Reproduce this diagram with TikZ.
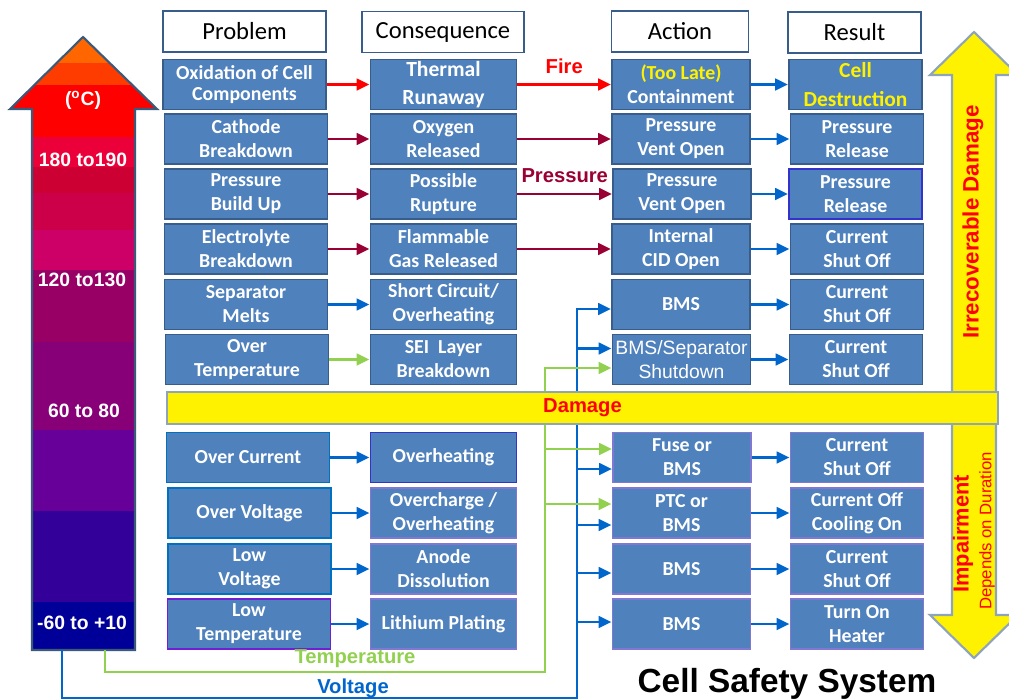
\documentclass[tikz,border=0pt]{standalone}
\usepackage{fontspec}
\setmainfont{Carlito}
\newfontfamily\arialfont{Liberation Sans}
\definecolor{boxfill}{RGB}{79,129,189}
\definecolor{boxedge}{RGB}{56,93,138}
\definecolor{edgedeep}{RGB}{51,51,204}
\definecolor{edgelight}{RGB}{128,120,210}
\definecolor{edgebright}{RGB}{0,112,192}
\definecolor{edgeviolet}{RGB}{112,32,210}
\definecolor{firered}{RGB}{255,0,0}
\definecolor{winered}{RGB}{153,0,51}
\definecolor{wireblue}{RGB}{0,102,204}
\definecolor{wiregreen}{RGB}{146,208,80}
\definecolor{framegray}{RGB}{142,164,186}
\definecolor{slate}{RGB}{59,90,122}
\definecolor{tempa}{RGB}{255,102,0}
\definecolor{tempb}{RGB}{255,60,0}
\definecolor{tempc}{RGB}{255,0,0}
\definecolor{tempd}{RGB}{236,0,58}
\definecolor{tempe}{RGB}{204,0,51}
\definecolor{tempf}{RGB}{204,0,72}
\definecolor{tempg}{RGB}{204,0,102}
\definecolor{temph}{RGB}{153,0,102}
\definecolor{tempi}{RGB}{136,0,119}
\definecolor{tempj}{RGB}{102,0,153}
\definecolor{tempk}{RGB}{51,0,153}
\definecolor{templ}{RGB}{0,0,153}
\usepackage{tikz}
\usetikzlibrary{
	arrows.meta,
	positioning,
	calc
}
\tikzset{
  % arrow
	cstra/.style      ={-{Triangle[length=0.26cm,width=0.23cm]}, line width=1.7pt}, % right arrow
  % node
	cstnode/.style    ={fill=boxfill,draw=boxedge,text=white,line width=1.1pt,inner sep=0pt,align=center,minimum height=1cm,font=\bfseries\fontsize{11.3}{13.6}\selectfont},
	csthead/.style    ={fill=white,draw=boxedge,text=black,line width=1.1pt,inner sep=0pt,minimum height=0.82cm,font=\fontsize{14}{16}\selectfont},
	cstcolp/.style    ={minimum width=3.26cm},
	cstcolc/.style    ={minimum width=2.92cm},
	cstcola/.style    ={minimum width=2.76cm},
	cstcolr/.style    ={minimum width=2.66cm},
  % text
	cstlabel/.style   ={font=\arialfont\bfseries\fontsize{11.5}{13}\selectfont},
	csttemp/.style    ={text=white,font=\arialfont\bfseries\fontsize{11}{13}\selectfont},
  % big arrow
	cstbig/.style     ={fill=yellow,draw=framegray,line width=1.2pt}
}

\begin{document}
\begin{tikzpicture}[x=0.02cm,y=-0.02cm]
	\useasboundingbox (0,0) rectangle (1009,700);
	% temperature scale
	\begin{scope}
		\clip (32,650) -- (32,109) -- (10,109) -- (83,37) -- (157,109) -- (135,109) -- (135,650) -- cycle;
		\foreach \ya/\yb/\col in {30/63/tempa,63/85/tempb,85/137/tempc,137/167/tempd,167/193/tempe,193/230/tempf,230/270/tempg,270/342/temph,342/430/tempi,430/511/tempj,511/602/tempk,602/652/templ}
			\fill[\col] (0,\ya) rectangle (170,\yb);
	\end{scope}
	\draw[slate,line width=1.2pt] (32,650) -- (32,109) -- (10,109) -- (83,37) -- (157,109) -- (135,109) -- (135,650) -- cycle;
	\node[csttemp] (t1) at (83,100) {(\textsuperscript{o}C)};
	\node[csttemp] (t2) at (83,160) {180 to190};
	\node[csttemp] (t3) at (82,280) {120 to130};
	\node[csttemp] (t4) at (84,411) {60 to 80};
	\node[csttemp] (t5) at (82,623) {-60 to +10};
	% headers
	\node[csthead,cstcolp] (hp) at (244.5,31.5) {Problem};
	\node[csthead,minimum width=3.24cm] (hc) at (443,32) {Consequence};
	\node[csthead,minimum width=2.74cm] (ha) at (680,31.5) {Action};
	\node[csthead,cstcolr] (hr) at (854.5,32.5) {Result};
	% problem
	\node[cstnode,cstcolp] (p1) at (244.5,84.5) {Oxidation of Cell\\[-2pt]Components};
	\node[cstnode,cstcolp] (p2) at (246,139) {Cathode\\Breakdown};
	\node[cstnode,cstcolp] (p3) at (246,194) {Pressure\\Build Up};
	\node[cstnode,cstcolp] (p4) at (246,249) {Electrolyte\\Breakdown};
	\node[cstnode,cstcolp] (p5) at (246,304.5) {Separator\\Melts};
	\node[cstnode,cstcolp] (p6) at (247,359.5) {Over\\Temperature};
	\node[cstnode,cstcolp,draw=edgebright] (p7) at (248,457.5) {Over Current};
	\node[cstnode,cstcolp,draw=edgebright] (p8) at (249.5,513) {Over Voltage};
	\node[cstnode,cstcolp,draw=edgebright] (p9) at (249.5,569) {Low\\Voltage};
	\node[cstnode,cstcolp,draw=edgeviolet] (p10) at (249,624) {Low\\Temperature};
	% consequence
	\node[cstnode,cstcolc,font=\bfseries\fontsize{12.3}{14}\selectfont] (c1) at (443.5,84.5) {Thermal\\[2pt]Runaway};
	\node[cstnode,cstcolc] (c2) at (443.5,139) {Oxygen\\Released};
	\node[cstnode,cstcolc] (c3) at (443.5,194) {Possible\\Rupture};
	\node[cstnode,cstcolc] (c4) at (443.5,249) {Flammable\\Gas Released};
	\node[cstnode,cstcolc] (c5) at (443.5,304.5) {Short Circuit/\\Overheating};
	\node[cstnode,cstcolc] (c6) at (443.5,359.5) {SEI\ \ Layer\\Breakdown};
	\node[cstnode,cstcolc,draw=edgedeep] (c7) at (443.5,457.5) {Overheating};
	\node[cstnode,cstcolc,draw=edgelight] (c8) at (443.5,513) {Overcharge /\\Overheating};
	\node[cstnode,cstcolc,draw=edgelight] (c9) at (443.5,569) {Anode\\Dissolution};
	\node[cstnode,cstcolc,draw=edgelight] (c10) at (443.5,624) {Lithium Plating};
	% action
	\node[cstnode,cstcola] (a1) at (681,84.5) {\textcolor{yellow}{(Too Late)}\\Containment};
	\node[cstnode,cstcola] (a2) at (681,139) {Pressure\\Vent Open};
	\node[cstnode,cstcola] (a3) at (682,194) {Pressure\\Vent Open};
	\node[cstnode,cstcola] (a4) at (681,249) {Internal\\CID Open};
	\node[cstnode,cstcola] (a5) at (681,304.5) {BMS};
	\node[cstnode,cstcola,font=\arialfont\fontsize{11}{13.6}\selectfont] (a6) at (681.5,359.5) {BMS/Separator\\Shutdown};
	\node[cstnode,cstcola,draw=edgelight] (a7) at (682,457.5) {Fuse or\\BMS};
	\node[cstnode,cstcola,draw=edgelight] (a8) at (681.5,513) {PTC or\\BMS};
	\node[cstnode,cstcola,draw=edgelight] (a9) at (681.5,569) {BMS};
	\node[cstnode,cstcola,draw=edgelight] (a10) at (681.5,624) {BMS};
	% result
	\node[cstnode,cstcolr,text=yellow,font=\bfseries\fontsize{12.2}{14}\selectfont] (r1) at (855.5,84.5) {Cell\\[2pt]Destruction};
	\node[cstnode,cstcolr] (r2) at (857,139) {Pressure\\Release};
	\node[cstnode,cstcolr,draw=edgedeep] (r3) at (855.5,194) {Pressure\\Release};
	\node[cstnode,cstcolr] (r4) at (857,249) {Current\\Shut Off};
	\node[cstnode,cstcolr] (r5) at (857,304.5) {Current\\Shut Off};
	\node[cstnode,cstcolr] (r6) at (856,359.5) {Current\\Shut Off};
	\node[cstnode,cstcolr,draw=edgelight] (r7) at (857,457.5) {Current\\Shut Off};
	\node[cstnode,cstcolr,draw=edgelight] (r8) at (857,513) {Current Off\\Cooling On};
	\node[cstnode,cstcolr,draw=edgelight] (r9) at (857,569) {Current\\Shut Off};
	\node[cstnode,cstcolr,draw=edgelight] (r10) at (857,624) {Turn On\\Heater};
	% problem -> consequence
	\draw[cstra,firered] (p1.east) -- (p1.east -| c1.west);
	\foreach \n in {2,3,4}
		\draw[cstra,winered] (p\n.east) -- (p\n.east -| c\n.west);
	\draw[cstra,wireblue] (p5.east) -- (p5.east -| c5.west);
	\draw[cstra,wiregreen] (p6.east) -- (p6.east -| c6.west);
	\foreach \n in {7,8,9,10}
		\draw[cstra,wireblue] (p\n.east) -- (p\n.east -| c\n.west);
	% consequence -> action
	\draw[cstra,firered] (c1.east) -- (c1.east -| a1.west) node[midway,above=2pt,cstlabel] {Fire};
	\draw[cstra,winered] (c2.east) -- (c2.east -| a2.west);
	\draw[cstra,winered] (c3.east) -- (c3.east -| a3.west) node[midway,above=2pt,cstlabel] {Pressure};
	\draw[cstra,winered] (c4.east) -- (c4.east -| a4.west);
	% action -> result
	\foreach \n in {1,...,10}
		\draw[cstra,wireblue] (a\n.east) -- (a\n.east -| r\n.west);
	% voltage wire
	\coordinate (vtop) at (62,650);
	\coordinate (vbus) at (577,698);
	\path (a5.west) ++(0,4.5) coordinate (vin5);
	\draw[cstra,wireblue] (vtop) |- (vbus) |- (vin5);
	\foreach \n/\dy in {6/-11,7/11.5,8/12,9/4,10/-2}{
		\path (a\n.west) ++(0,\dy) coordinate (vin\n);
		\draw[cstra,wireblue] (vbus |- vin\n) -- (vin\n);
	}
	% temperature wire
	\coordinate (ttop) at (105,650);
	\coordinate (tbus) at (545,672);
	\path (a6.west) ++(0,8.5) coordinate (tin6);
	\draw[cstra,wiregreen] (ttop) |- (tbus) |- (tin6);
	\foreach \n/\dy in {7/-8.5,8/-9}{
		\path (a\n.west) ++(0,\dy) coordinate (tin\n);
		\draw[cstra,wiregreen] (tbus |- tin\n) -- (tin\n);
	}
	\node[cstlabel,text=wiregreen] (temp) at (355,659) {Temperature};
	\node[cstlabel,text=wireblue] (volt) at (353,688) {Voltage};
	% damage arrows
	\draw[cstbig] (952,392) -- (952,75) -- (930,75) -- (974,32) -- (1018,75) -- (996,75) -- (996,392);
	\draw[cstbig] (952,424) -- (952,615) -- (930,615) -- (974,658) -- (1018,615) -- (996,615) -- (996,424);
	\node[cstlabel,text=firered,fill=yellow,draw=framegray,line width=1.2pt,minimum width=16.62cm,minimum height=0.64cm,inner sep=0pt] (damage) at (582.5,408) {Damage};
	\node[rotate=90,text=firered,font=\arialfont\bfseries\fontsize{12.7}{14}\selectfont] (irr) at (973,222) {Irrecoverable Damage};
	\node[rotate=90,text=firered,font=\arialfont\bfseries\fontsize{12.4}{14}\selectfont] (imp) at (963,534) {Impairment};
	\node[rotate=90,text=firered,font=\arialfont\fontsize{9.5}{11}\selectfont] (dur) at (987,531) {Depends on Duration};
	% title
	\node[font=\arialfont\bfseries\fontsize{19}{22}\selectfont] (title) at (787,684) {Cell Safety System};
\end{tikzpicture}
\end{document}
